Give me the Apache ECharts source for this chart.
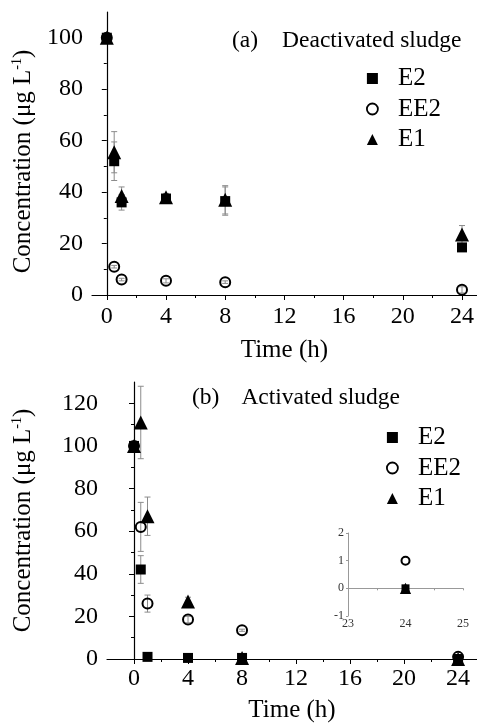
<!DOCTYPE html>
<html>
<head>
<meta charset="utf-8">
<script src="https://cdn.jsdelivr.net/npm/echarts@6/dist/echarts.min.js"></script>
<style>
  html, body { margin: 0; padding: 0; background: #fff; }
  #chart { width: 477px; height: 724px; }
</style>
</head>
<body>
<div id="chart"></div>
<script>
// sampling times (h)
var times = [0, 0.5, 1, 4, 8, 24];

// (a) deactivated sludge
var e2A = [100, 52, 36, 37.5, 36.5, 18.5];
var ee2A = [100, 11, 6, 5.5, 5, 2];
var e1A = [100, 55.5, 38.5, 38, 37, 23.5];
var e2AErr = [1, 7.5, 3, 1.5, 5.5, 1];
var ee2AErr = [1, 0.5, 0.5, 0.8, 0.5, 1.2];
var e1AErr = [1, 8, 3.5, 1.5, 5.5, 3.5];

// (b) activated sludge
var e2B = [100, 42, 1, 0.5, 0.5, 0];
var ee2B = [100, 62, 26, 18.5, 13.5, 1];
var e1B = [100, 111, 67, 27, 0.5, 0];
var e2BErr = [1, 6.5, 0.5, 0.3, 0.3, 0];
var ee2BErr = [1, 11.5, 4, 1.5, 0.5, 0.5];
var e1BErr = [1, 17, 9, 2, 0.5, 0];

// inset, t = 24 h
var insetTime = [24];
var e2Inset = [0];
var ee2Inset = [1];
var e1Inset = [0];

var xTicks = [0, 4, 8, 12, 16, 20, 24];
var xMinor = [2, 6, 10, 14, 18, 22];
var yTicksA = [0, 20, 40, 60, 80, 100];
var yMinorA = [10, 30, 50, 70, 90];
var yTicksB = [0, 20, 40, 60, 80, 100, 120];
var yMinorB = [10, 30, 50, 70, 90, 110];

var serif = 'Liberation Serif';

function pairs(xs, ys) {
    return xs.map(function (x, i) { return [x, ys[i]]; });
}

function errBars(vals, errs, xi, yi) {
    return {
        type: 'custom',
        xAxisIndex: xi,
        yAxisIndex: yi,
        silent: true,
        z: 1,
        renderItem: function (params, api) {
            var lo = api.coord([api.value(0), api.value(1)]);
            var hi = api.coord([api.value(0), api.value(2)]);
            var w = 3;
            var st = { stroke: '#8c8c8c', lineWidth: 1 };
            return {
                type: 'group',
                children: [
                    { type: 'line', shape: { x1: lo[0], y1: lo[1], x2: hi[0], y2: hi[1] }, style: st },
                    { type: 'line', shape: { x1: lo[0] - w, y1: lo[1], x2: lo[0] + w, y2: lo[1] }, style: st },
                    { type: 'line', shape: { x1: hi[0] - w, y1: hi[1], x2: hi[0] + w, y2: hi[1] }, style: st }
                ]
            };
        },
        data: times.map(function (t, i) { return [t, vals[i] - errs[i], vals[i] + errs[i]]; })
    };
}

function scat(name, data, xi, yi, small) {
    var k = small ? 0.8 : 1;
    var s = { name: name, type: 'scatter', xAxisIndex: xi, yAxisIndex: yi, data: data, z: 3 };
    if (name === 'E2') {
        s.symbol = 'rect'; s.symbolSize = 10 * k;
        s.itemStyle = { color: '#000', opacity: 1 };
    } else if (name === 'EE2') {
        s.symbol = 'circle'; s.symbolSize = 10 * k;
        s.itemStyle = { color: 'rgba(0,0,0,0)', borderColor: '#000', borderWidth: 2, opacity: 1 };
    } else {
        s.symbol = 'triangle'; s.symbolSize = 14 * k;
        s.itemStyle = { color: '#000', opacity: 1 };
    }
    return s;
}

function mainX(gi, min, max, gap) {
    return [{
        gridIndex: gi, type: 'value', min: min, max: max,
        name: 'Time (h)', nameLocation: 'middle', nameGap: gap,
        nameTextStyle: { fontFamily: serif, fontSize: 25, color: '#000' },
        axisLine: { lineStyle: { color: '#000', width: 1.2 } },
        axisTick: { customValues: xTicks, length: 5, lineStyle: { color: '#000' } },
        axisLabel: { customValues: xTicks, fontFamily: serif, fontSize: 24, color: '#000', margin: gi === 0 ? 10 : 8 },
        splitLine: { show: false }
    }, {
        gridIndex: gi, type: 'value', min: min, max: max, position: 'bottom',
        axisLine: { show: false },
        axisTick: { customValues: xMinor, length: 3, lineStyle: { color: '#000' } },
        axisLabel: { show: false },
        splitLine: { show: false }
    }];
}

function mainY(gi, max, ticks, minor, gap, pad) {
    return [{
        gridIndex: gi, type: 'value', min: 0, max: max,
        name: 'Concentration (μg L{sup|-1})', nameLocation: 'middle', nameGap: gap,
        nameTextStyle: {
            fontFamily: serif, fontSize: 25, color: '#000', padding: pad,
            rich: { sup: { fontFamily: serif, fontSize: 14, color: '#000', padding: [0, 0, 13, 0] } }
        },
        axisLine: { lineStyle: { color: '#000', width: 1.2 } },
        axisTick: { customValues: ticks, length: 5, lineStyle: { color: '#000' } },
        axisLabel: { customValues: ticks, fontFamily: serif, fontSize: 24, color: '#000', margin: 9 },
        splitLine: { show: false }
    }, {
        gridIndex: gi, type: 'value', min: 0, max: max, position: 'left',
        axisLine: { show: false },
        axisTick: { customValues: minor, length: 3, lineStyle: { color: '#000' } },
        axisLabel: { show: false },
        splitLine: { show: false }
    }];
}

function panelLegend(left, top) {
    return {
        data: ['E2', { name: 'EE2', itemStyle: { borderWidth: 1.8 } }, 'E1'],
        orient: 'vertical', left: left, top: top,
        itemWidth: 11, itemHeight: 11, itemGap: 5.5, selectedMode: false,
        textStyle: { fontFamily: serif, fontSize: 25, lineHeight: 22, color: '#000', padding: [0, 0, 0, 15] }
    };
}

function panelTitle(tag, text, left, top, gap) {
    var st = { fontFamily: serif, fontSize: 23.5, fontWeight: 'normal', color: '#000' };
    return {
        text: '{p|' + tag + '}{t|' + text + '}',
        left: left, top: top,
        textStyle: { fontWeight: 'normal', rich: {
            p: st,
            t: Object.assign({ padding: [0, 0, 0, gap] }, st)
        } }
    };
}

var insetAxisStyle = { color: '#999', width: 1 };

var myChart = echarts.init(document.getElementById('chart'));
myChart.setOption({
    animation: false,
    textStyle: { fontFamily: serif },
    title: [
        panelTitle('(a)', 'Deactivated sludge', 227, 24, 24),
        panelTitle('(b)', 'Activated sludge', 187, 381, 22)
    ],
    legend: [panelLegend(361, 61), panelLegend(381, 420)],
    grid: [
        { left: 92, top: 12, width: 386, height: 283 },
        { left: 107, top: 382, width: 370, height: 280 },
        { left: 348, top: 533, width: 115, height: 83 }
    ],
    xAxis: mainX(0, -1, 25, 43).concat(mainX(1, -2, 25.4, 39)).concat([{
        gridIndex: 2, type: 'value', min: 23, max: 25, interval: 0.5,
        axisLine: { lineStyle: insetAxisStyle },
        axisTick: { length: 2, lineStyle: insetAxisStyle },
        axisLabel: {
            fontFamily: serif, fontSize: 12, color: '#333', margin: 2,
            formatter: function (v) { return v % 1 === 0 ? String(v) : ''; }
        },
        splitLine: { show: false }
    }]),
    yAxis: mainY(0, 110, yTicksA, yMinorA, 47, [0, 16, 0, 0]).concat(mainY(1, 130, yTicksB, yMinorB, 70, 0)).concat([{
        gridIndex: 2, type: 'value', min: -1, max: 2, interval: 1,
        axisLine: { lineStyle: insetAxisStyle },
        axisTick: { length: 2, lineStyle: insetAxisStyle },
        axisLabel: { fontFamily: serif, fontSize: 12, color: '#333', margin: 4 },
        splitLine: { show: false }
    }]),
    series: [
        errBars(e2A, e2AErr, 0, 0),
        errBars(ee2A, ee2AErr, 0, 0),
        errBars(e1A, e1AErr, 0, 0),
        scat('E2', pairs(times, e2A), 0, 0),
        scat('EE2', pairs(times, ee2A), 0, 0),
        scat('E1', pairs(times, e1A), 0, 0),

        errBars(e2B, e2BErr, 2, 2),
        errBars(ee2B, ee2BErr, 2, 2),
        errBars(e1B, e1BErr, 2, 2),
        scat('E2', pairs(times, e2B), 2, 2),
        scat('EE2', pairs(times, ee2B), 2, 2),
        scat('E1', pairs(times, e1B), 2, 2),

        scat('E2', pairs(insetTime, e2Inset), 4, 4, true),
        scat('EE2', pairs(insetTime, ee2Inset), 4, 4, true),
        scat('E1', pairs(insetTime, e1Inset), 4, 4, true)
    ]
});
</script>
</body>
</html>
